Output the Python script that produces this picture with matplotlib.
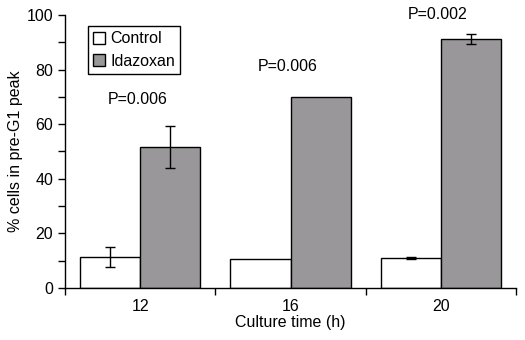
import numpy as np
import matplotlib.pyplot as plt
from matplotlib.ticker import MultipleLocator, FixedLocator

plt.rcParams['font.family'] = ['Liberation Sans', 'DejaVu Sans']

# data
times = ['12', '16', '20']
control = [11.3, 10.6, 11.0]
control_err = [3.7, 0.0, 0.4]
idazoxan = [51.6, 70.0, 91.2]
idazoxan_err = [7.8, 0.0, 1.7]
p_labels = ['P=0.006', 'P=0.006', 'P=0.002']
p_heights = [69, 81, 100]

x = np.arange(len(times))
w = 0.4
fs = 11.5

fig = plt.figure(figsize=(5.25, 3.4), dpi=100)
ax = fig.add_axes([0.124, 0.153, 0.859, 0.803])

ax.bar(x - w/2, control, w, color='white', edgecolor='black', linewidth=1,
       label='Control')
ax.bar(x + w/2, idazoxan, w, color='#9a979a', edgecolor='black', linewidth=1,
       label='Idazoxan')

# only draw error bars that are non-zero
for xs, ys, es in [(x - w/2, control, control_err), (x + w/2, idazoxan, idazoxan_err)]:
    for xi, yi, ei in zip(xs, ys, es):
        if ei > 0:
            ax.errorbar(xi, yi, yerr=ei, fmt='none', ecolor='black',
                        elinewidth=1, capsize=3.5, capthick=1)

for i in range(len(times)):
    ax.text(x[i] - 0.02, p_heights[i], p_labels[i], ha='center', va='center',
            fontsize=fs)

ax.set_xlim(-0.5, 2.5)
ax.set_ylim(0, 100)
ax.yaxis.set_major_locator(MultipleLocator(20))
ax.yaxis.set_minor_locator(MultipleLocator(10))
ax.xaxis.set_major_locator(FixedLocator([-0.5, 0.5, 1.5, 2.5]))
ax.xaxis.set_minor_locator(FixedLocator(x))
ax.set_xticklabels([])
ax.set_xticklabels(times, minor=True)
ax.tick_params(axis='x', which='minor', length=0, pad=8, labelsize=fs)
ax.tick_params(axis='x', which='major', length=5, width=1, direction='out')
ax.tick_params(axis='y', which='both', length=5, width=1, direction='out',
               labelsize=fs)

for s in ['top', 'right']:
    ax.spines[s].set_visible(False)
for s in ['left', 'bottom']:
    ax.spines[s].set_linewidth(1)

ax.set_xlabel('Culture time (h)', fontsize=fs, labelpad=1)
ax.set_ylabel('% cells in pre-G1 peak', fontsize=fs, labelpad=3)

leg = ax.legend(loc='upper left', bbox_to_anchor=(0.05, 0.96), fancybox=False,
                edgecolor='black', framealpha=1, fontsize=fs,
                handlelength=0.75, handleheight=0.75, handletextpad=0.3,
                borderpad=0.35, labelspacing=0.45, borderaxespad=0)
leg.get_frame().set_linewidth(1)

plt.savefig('out.png', dpi=100)
